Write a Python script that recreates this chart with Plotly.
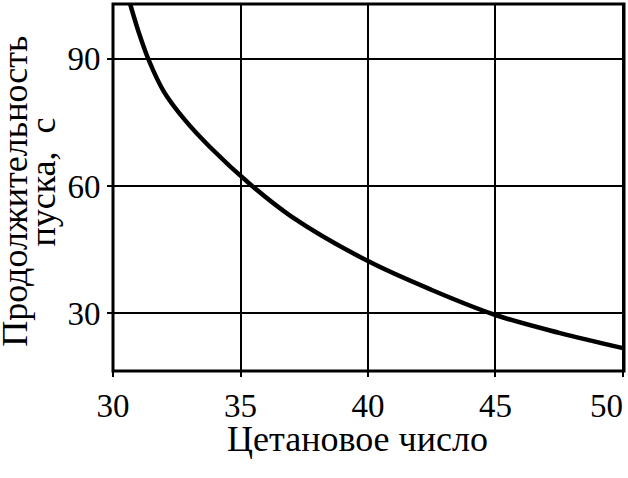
import plotly.graph_objects as go

# cetane number vs. start duration
cetane = [30.6, 31.0, 31.4, 32.0, 32.8, 33.8, 35.4, 37.0, 40, 42.5, 45, 47.5, 50]
start_time = [104.4, 96.4, 89.7, 82.2, 75.7, 69.2, 60.3, 52.8, 42.3, 35.5, 29.6, 25.4, 21.8]

x_ticks = [30, 35, 40, 45, 50]
x_ticktext = ["30", "35", "40", "45", "50\u2007\u2007"]
y_ticks = [30, 60, 90]

x_title = "Цетановое число"
y_title_1 = "Продолжительность"
y_title_2 = "пуска,\u00a0\u00a0с"

serif = "Liberation Serif"

fig = go.Figure(go.Scatter(
    x=cetane, y=start_time, mode="lines",
    line=dict(color="black", width=4.5, shape="spline", smoothing=1.0),
    showlegend=False,
))

fig.update_layout(
    width=628, height=478,
    margin=dict(l=113, r=4, t=4, b=107),
    plot_bgcolor="white", paper_bgcolor="white",
    font=dict(family=serif, color="black", size=33),
)

fig.update_xaxes(
    range=[30, 50.04], tickvals=x_ticks, ticktext=x_ticktext,
    showgrid=True, gridcolor="black", gridwidth=2, showline=False,
    ticks="outside", ticklen=5, tickwidth=2, tickcolor="black",
    tickfont=dict(size=33), zeroline=False, automargin=False,
    ticklabeloverflow="allow",
)
fig.update_yaxes(
    range=[16.4, 102.9], tickvals=y_ticks,
    showgrid=True, gridcolor="black", gridwidth=2, showline=False,
    ticks="outside", ticklen=5, tickwidth=2, tickcolor="black",
    tickfont=dict(size=33), zeroline=False, automargin=False,
)

# frame round the plot area
fig.add_shape(type="rect", xref="paper", yref="paper", x0=0, x1=1, y0=0, y1=1,
              line=dict(color="black", width=3), layer="above")

fig.add_annotation(text=x_title, xref="paper", yref="paper", x=0.4775, y=-0.184,
                   showarrow=False, xanchor="center", yanchor="middle",
                   font=dict(size=36))
fig.add_annotation(text=y_title_1, xref="paper", yref="paper", x=-0.192, y=0.4906,
                   showarrow=False, textangle=-90, xanchor="center", yanchor="middle",
                   font=dict(size=36))
fig.add_annotation(text=y_title_2, xref="paper", yref="paper", x=-0.1388, y=0.5135,
                   showarrow=False, textangle=-90, xanchor="center", yanchor="middle",
                   font=dict(size=36))

# the page body has a default 8px margin; drop it so the figure fills the window
fig.write_html("out.html", config={"displayModeBar": False},
               post_script="document.body.style.margin='0';")
